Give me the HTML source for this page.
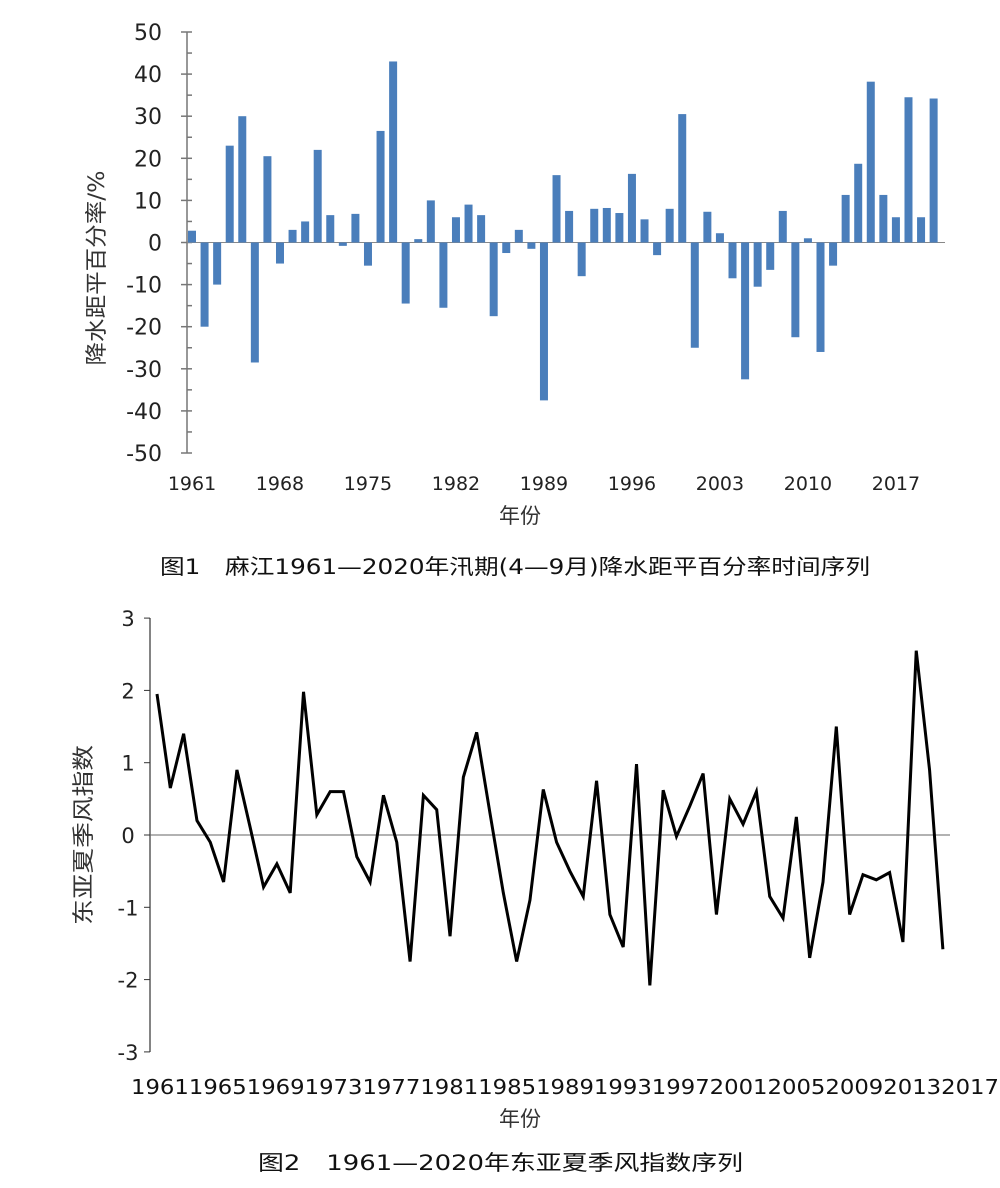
<!DOCTYPE html>
<html><head><meta charset="utf-8"><style>
body{margin:0;background:#fff;}
svg text{font-family:"DejaVu Sans","Noto Sans CJK SC",sans-serif;}
</style></head><body>
<svg id="s" width="1000" height="1183" xmlns="http://www.w3.org/2000/svg"></svg>
<script>
var s=document.getElementById('s'),h='';
var v1=[2.8,-20,-10,23,30,-28.5,20.5,-5,3,5,22,6.5,-0.8,6.8,-5.5,26.5,43,-14.5,0.8,10,-15.5,6,9,6.5,-17.5,-2.5,3,-1.5,-37.5,16,7.5,-8,8,8.2,7,16.3,5.5,-3,8,30.5,-25,7.3,2.2,-8.5,-32.5,-10.5,-6.5,7.5,-22.5,1,-26,-5.5,11.3,18.7,38.2,11.3,6,34.5,6,34.2];
var z1=242.5,k1=4.21;
h+='<line x1="187" y1="32" x2="187" y2="453" stroke="#777" stroke-width="1.5"/>';
for(var t=-50;t<=50;t+=5){var y=z1-t*k1;if(t%10==0){h+='<line x1="181" x2="192" y1="'+y+'" y2="'+y+'" stroke="#777" stroke-width="1.5"/><text x="162" y="'+(y+8)+'" font-size="22" text-anchor="end" fill="#222">'+t+'</text>';}else h+='<line x1="187" x2="192" y1="'+y+'" y2="'+y+'" stroke="#777" stroke-width="1.5"/>';}
h+='<line x1="187" x2="945" y1="'+z1+'" y2="'+z1+'" stroke="#888" stroke-width="1"/>';
for(var i=0;i<60;i++){var x=192+i*12.57,v=v1[i],y0=v>0?z1-v*k1:z1;h+='<rect x="'+(x-4)+'" y="'+y0+'" width="8" height="'+Math.abs(v*k1)+'" fill="#4a7ebb"/>';}
for(var i=0;i<60;i+=7){h+='<text x="'+(192+i*12.57)+'" y="490" font-size="19" text-anchor="middle" fill="#222">'+(1961+i)+'</text>';}
h+='<text x="520" y="523" font-size="21" text-anchor="middle" fill="#333">年份</text>';
h+='<text transform="translate(104,268) rotate(-90)" font-size="22" text-anchor="middle" fill="#333" textLength="195" lengthAdjust="spacingAndGlyphs">降水距平百分率/%</text>';
h+='<text x="160" y="574" font-size="21" fill="#111" textLength="710" lengthAdjust="spacingAndGlyphs">图1　麻江1961—2020年汛期(4—9月)降水距平百分率时间序列</text>';
var v2=[1.95,0.65,1.4,0.2,-0.1,-0.65,0.9,0.1,-0.72,-0.4,-0.8,1.98,0.28,0.6,0.6,-0.3,-0.65,0.55,-0.1,-1.75,0.55,0.35,-1.4,0.8,1.42,0.3,-0.8,-1.75,-0.9,0.63,-0.1,-0.5,-0.85,0.75,-1.1,-1.55,0.98,-2.08,0.62,-0.02,0.4,0.85,-1.1,0.5,0.15,0.6,-0.85,-1.15,0.25,-1.7,-0.65,1.5,-1.1,-0.55,-0.62,-0.52,-1.48,2.55,0.9,-1.58];
var z2=835,k2=72.3;
h+='<line x1="150" y1="618" x2="150" y2="1052" stroke="#333" stroke-width="1.2"/>';
for(var t=-3;t<=3;t++){var y=z2-t*k2;h+='<line x1="144" x2="150" y1="'+y+'" y2="'+y+'" stroke="#333"/><text x="128" y="'+(y+8)+'" font-size="21" text-anchor="middle" fill="#222">'+t+'</text>';}
h+='<line x1="150" x2="950" y1="'+z2+'" y2="'+z2+'" stroke="#666" stroke-width="1"/>';
var p='';for(var i=0;i<60;i++){p+=(157+i*13.32)+','+(z2-v2[i]*k2)+' ';}
h+='<polyline points="'+p+'" fill="none" stroke="#000" stroke-width="3" stroke-linejoin="miter"/>';
var lab='';for(var i=0;i<60;i+=4)lab+=(1961+i);
h+='<text x="131" y="1094" font-size="20" fill="#111" textLength="868" lengthAdjust="spacingAndGlyphs">'+lab+'</text>';
h+='<text x="520" y="1126" font-size="21" text-anchor="middle" fill="#333">年份</text>';
h+='<text transform="translate(91,835) rotate(-90)" font-size="22" text-anchor="middle" fill="#333" textLength="180" lengthAdjust="spacingAndGlyphs">东亚夏季风指数</text>';
h+='<text x="258" y="1170" font-size="21" fill="#111" textLength="485" lengthAdjust="spacingAndGlyphs">图2　1961—2020年东亚夏季风指数序列</text>';
s.innerHTML=h;
</script>
</body></html>
